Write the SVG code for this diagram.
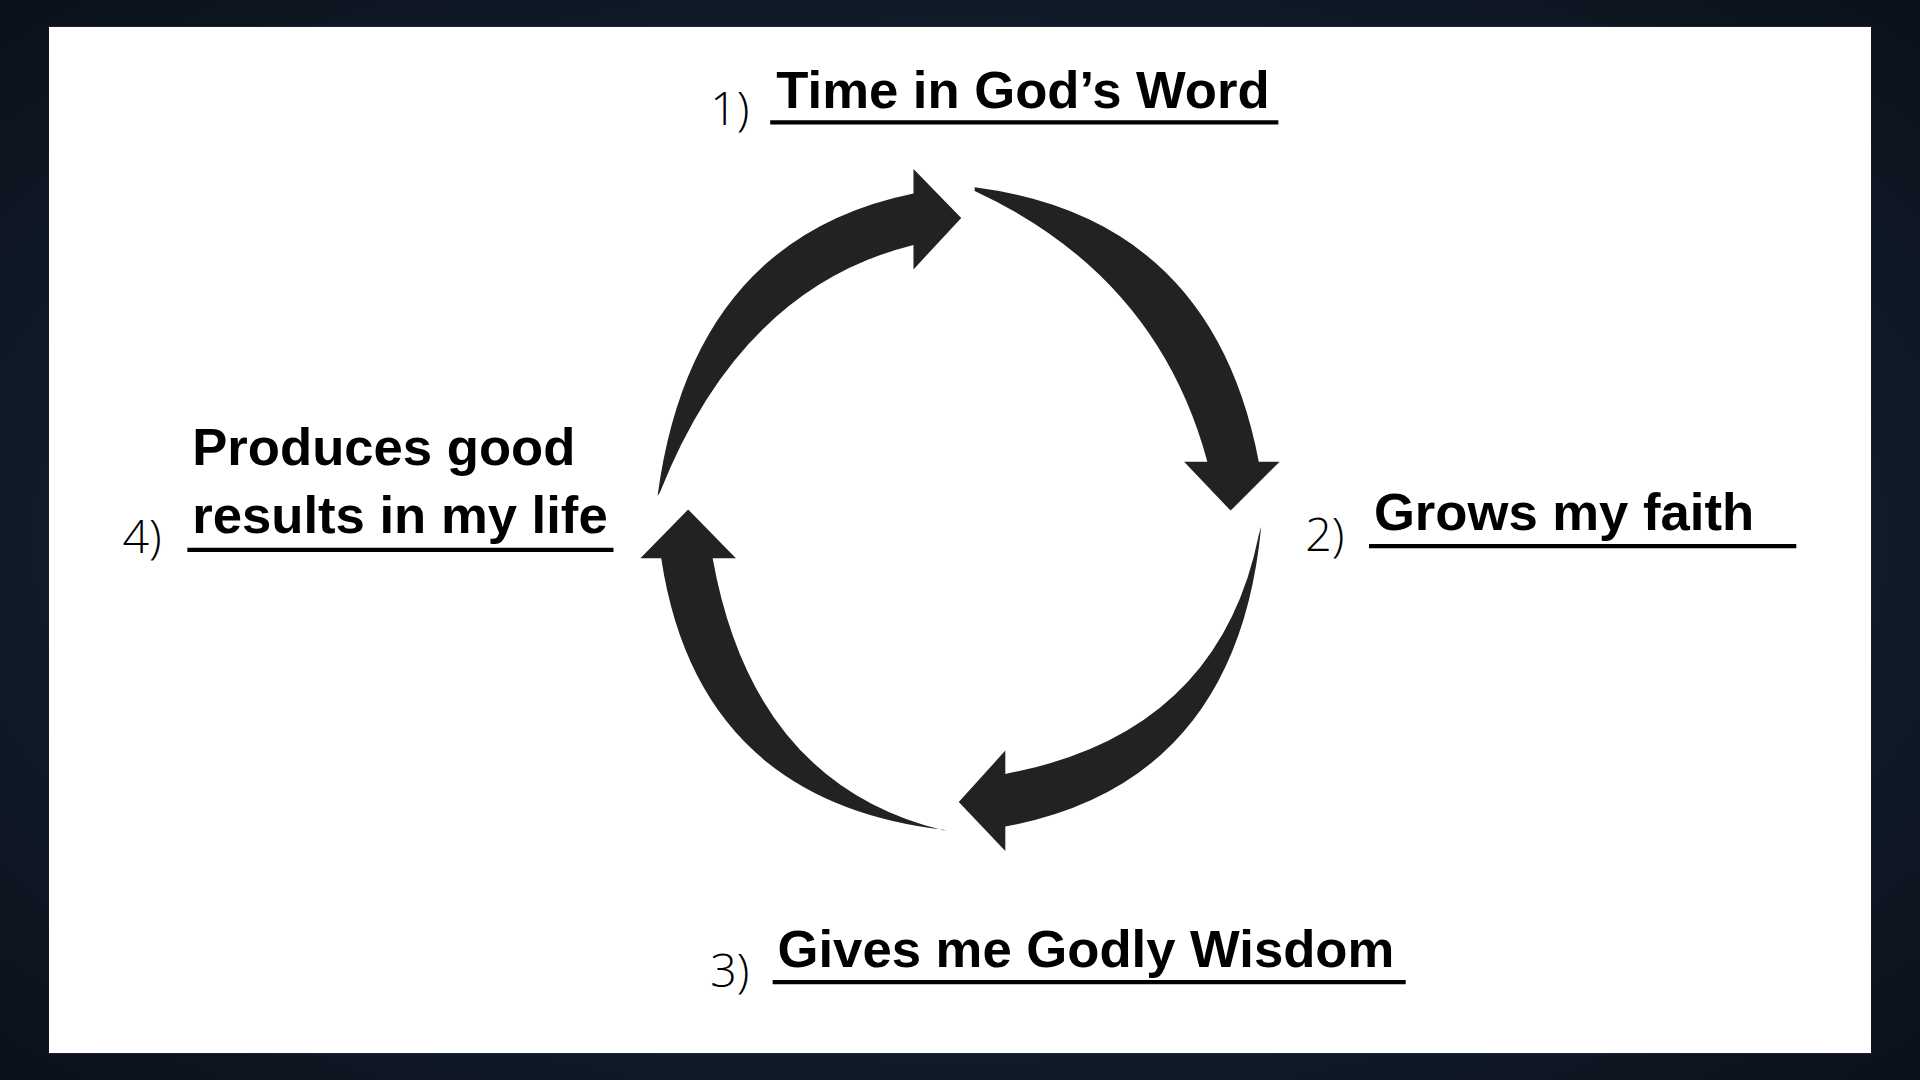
<svg xmlns="http://www.w3.org/2000/svg" width="1920" height="1080" viewBox="0 0 1920 1080">
<defs>
<radialGradient id="bg" cx="50%" cy="50%" r="70%">
<stop offset="0" stop-color="#1e2f45"/><stop offset="1" stop-color="#0a111b"/>
</radialGradient>
<style>
.lab{font-family:"Liberation Sans",Arial,sans-serif;font-weight:bold;font-size:43px;fill:#000}
.num{font-family:"Open Sans","Liberation Sans",sans-serif;font-weight:300;font-size:38px;fill:#000}
.ul{stroke:#000;stroke-width:3.5}
.arrow{fill:#222}
</style>
</defs>
<rect width="1920" height="1080" fill="url(#bg)"/>
<g transform="scale(1.22449)">
<rect x="40" y="22" width="1488" height="838" fill="#fff"/>
<g id="connectors">
<path class="arrow" d="M537,405 Q565,195 746,158 L746,138 L785,178 L746,220 L746,200 Q605,235 539,402 Z"/>
<path class="arrow" d="M796,153 Q990,178 1028,377 L1045,377 L1005,417 L967,377 L986,377 Q945,225 796,156 Z"/>
<path class="arrow" d="M1030,430 Q1010,640 821,675 L821,695 L783,655 L821,613 L821,632 Q995,600 1028,437 Z"/>
<path class="arrow" d="M773,678 Q570,655 540,456 L523,456 L562,416 L601,456 L582,456 Q615,640 770,678 Z"/>
</g>
<g id="node1">
<text class="num" x="580" y="102">1)</text>
<text class="lab" x="634" y="88">Time in God’s Word</text>
<line class="ul" x1="629" y1="100" x2="1044" y2="100"/>
</g>
<g id="node2">
<text class="num" x="1066" y="450">2)</text>
<text class="lab" x="1122" y="433">Grows my faith</text>
<line class="ul" x1="1118" y1="446" x2="1467" y2="446"/>
</g>
<g id="node3">
<text class="num" x="580" y="806">3)</text>
<text class="lab" x="635" y="790">Gives me Godly Wisdom</text>
<line class="ul" x1="631" y1="802" x2="1148" y2="802"/>
</g>
<g id="node4">
<text class="num" x="100" y="452">4)</text>
<text class="lab" x="157" y="380">Produces good</text>
<text class="lab" x="157" y="435">results in my life</text>
<line class="ul" x1="153" y1="449" x2="501" y2="449"/>
</g>
</g>
</svg>
